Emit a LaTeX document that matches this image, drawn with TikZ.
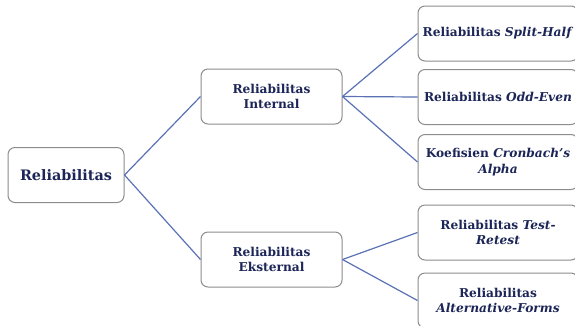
\documentclass[tikz,border=0pt]{standalone}
\usepackage{fontspec}
\setmainfont{DejaVu Serif}
\definecolor{navy}{HTML}{1C2557}
\definecolor{boxgray}{HTML}{8C8C8C}
\definecolor{linkblue}{HTML}{5A72B4}
\begin{document}
\begin{tikzpicture}[x=1pt,y=-1pt,
  box/.style={draw=boxgray, line width=1pt, rounded corners=7pt, fill=white,
    align=center, text=navy, font=\bfseries\fontsize{12.2}{15.5}\selectfont,
    inner sep=0pt, minimum height=55pt},
  rootbox/.style={box, minimum width=116pt, font=\bfseries\fontsize{14.4}{17}\selectfont},
  midbox/.style={box, minimum width=141pt},
  leafbox/.style={box, minimum width=160pt},
  link/.style={draw=linkblue, line width=1.2pt}]
\useasboundingbox (0,0) rectangle (575,325);
\clip (0,0) rectangle (575,325);
\node[rootbox] (root) at (66,175) {Reliabilitas};
\node[midbox] (int) at (271.5,96.5) {Reliabilitas\\Internal};
\node[midbox] (ext) at (271.5,259.5) {Reliabilitas\\Eksternal};
\node[leafbox] (r1) at (498,33.5) {Reliabilitas \textit{Split-Half}};
\node[leafbox] (r2) at (498,97) {Reliabilitas \textit{Odd-Even}};
\node[leafbox] (r3) at (498,162) {Koefisien \textit{Cronbach's}\\\textit{Alpha}};
\node[leafbox] (r4) at (498,232.5) {Reliabilitas \textit{Test-}\\\textit{Retest}};
\node[leafbox] (r5) at (498,300.5) {Reliabilitas\\\textit{Alternative-Forms}};
\draw[link] (root.east) -- (int.west);
\draw[link] (root.east) -- (ext.west);
\draw[link] (int.east) -- (r1.west);
\draw[link] (int.east) -- (r2.west);
\draw[link] (int.east) -- (r3.west);
\draw[link] (ext.east) -- (r4.west);
\draw[link] (ext.east) -- (r5.west);
\end{tikzpicture}
\end{document}
